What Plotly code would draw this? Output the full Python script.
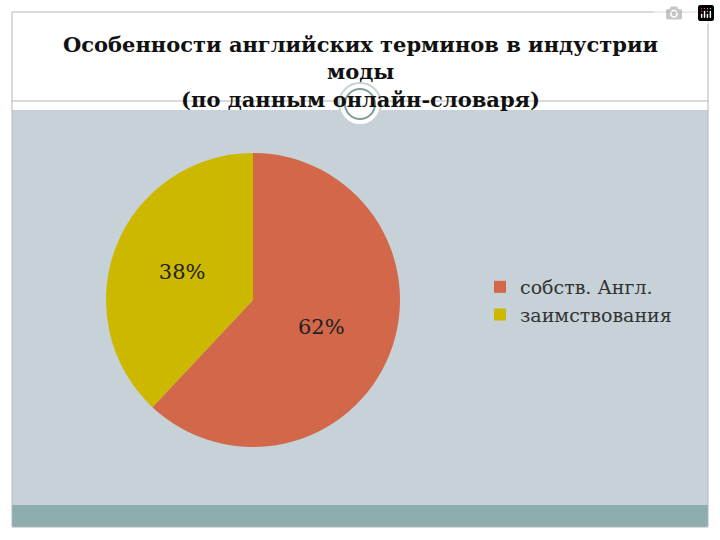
import plotly.graph_objects as go

labels = ["собств. Англ.", "заимствования"]
values = [62, 38]
colors = ["#D2674A", "#CDB800"]

W, H = 720, 540
def px(x): return x / W
def py(y): return 1 - y / H

fig = go.Figure(go.Pie(
    labels=labels, values=values, sort=False, direction="clockwise", rotation=0,
    marker=dict(colors=colors, line=dict(width=0)),
    textinfo="percent", textposition="inside",
    insidetextfont=dict(family="DejaVu Serif", size=21, color="#222"),
    domain=dict(x=[px(106), px(400)], y=[py(447), py(153)]),
    hoverinfo="label+percent",
))

shapes = [
    dict(type="rect", xref="paper", yref="paper", x0=px(12), x1=px(708), y0=py(505), y1=py(110),
         fillcolor="#C6D2D8", line=dict(width=0), layer="below"),
    dict(type="rect", xref="paper", yref="paper", x0=px(12), x1=px(708), y0=py(527), y1=py(505),
         fillcolor="#8DAEAD", line=dict(width=0), layer="below"),
    dict(type="rect", xref="paper", yref="paper", x0=px(12), x1=px(708), y0=py(527), y1=py(12),
         fillcolor="rgba(0,0,0,0)", line=dict(color="#B0B8BC", width=1)),
    dict(type="line", xref="paper", yref="paper", x0=px(12), x1=px(708), y0=py(101), y1=py(101),
         line=dict(color="#B0B8BC", width=1)),
    dict(type="circle", xref="paper", yref="paper", x0=px(339), x1=px(381), y0=py(125), y1=py(83),
         fillcolor="white", line=dict(color="#C6D2D8", width=2)),
    dict(type="circle", xref="paper", yref="paper", x0=px(345), x1=px(375), y0=py(119), y1=py(89),
         fillcolor="white", line=dict(color="#7E9C9E", width=2)),
]

fig.update_layout(
    width=W, height=H, margin=dict(l=0, r=0, t=0, b=0),
    paper_bgcolor="white", plot_bgcolor="white",
    shapes=shapes,
    showlegend=True,
    legend=dict(x=px(480), y=py(268), xanchor="left", yanchor="top",
                font=dict(family="DejaVu Serif", size=19, color="#333"),
                bgcolor="rgba(0,0,0,0)", itemwidth=30, tracegroupgap=6),
    annotations=[dict(
        text="<b>Особенности английских терминов в индустрии<br>моды<br>(по данным онлайн-словаря)</b>",
        xref="paper", yref="paper", x=0.5, y=py(30), xanchor="center", yanchor="top",
        showarrow=False, font=dict(family="DejaVu Serif", size=21, color="#111"))],
)
fig.write_html("out.html")
with open("out.html", encoding="utf-8") as f:
    html = f.read()
html = html.replace("<head>", "<head><style>html,body{margin:0;padding:0;overflow:hidden}</style>", 1)
with open("out.html", "w", encoding="utf-8") as f:
    f.write(html)
